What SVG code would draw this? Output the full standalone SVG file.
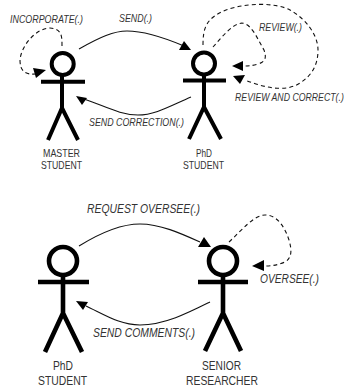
<svg xmlns="http://www.w3.org/2000/svg" width="344" height="387" viewBox="0 0 344 387">
<style>
text{font-family:"Liberation Sans",Arial,sans-serif;fill:#333;font-size:11.5px}
.i{font-style:italic}
.b{font-size:13.5px}
.fig{fill:none;stroke:#000;stroke-width:4}
.big{stroke-width:4.6}
.c{fill:none;stroke:#111;stroke-width:1.1}
.d{stroke-dasharray:4 3.2}
.h{fill:#000;stroke:none}
</style>
<rect width="344" height="387" fill="#fff"/>
<g id="connectors">
<path class="c" d="M79 49C100 37 114 31 127 31C145 31 165 38 184 46"/>
<polygon class="h" points="191,50 184,41 179,50"/>
<path class="c" d="M191 97C170 106 155 115 138 115C120 115 105 106 84 99"/>
<polygon class="h" points="76,96 87,98 82,105"/>
<path class="c d" d="M62 46C62 36 62 29 50 28C36 28 21 46 20 60C20 71 25 75 36 74"/>
<polygon class="h" points="46,70 33,68 36,78"/>
<path class="c d" d="M203 45C203 28 206 18 226 10C245 3 275 2 290 10C306 19 318 35 318 50C318 66 311 76 300 83C288 91 270 90 245 80"/>
<polygon class="h" points="233,76 245,75 240,84"/>
<path class="c d" d="M213 47C222 37 232 24 242 23C252 24 258 40 264 50C267 58 265 62 258 64C252 66 248 66 243 66"/>
<polygon class="h" points="232,66 243,61 243,71"/>
<path class="c" d="M79 246C100 233 120 224 140 224C160 224 180 233 200 242"/>
<polygon class="h" points="211,247 204,237 198,247"/>
<path class="c" d="M210 302C190 312 165 325 140 325C120 325 105 315 86 306"/>
<polygon class="h" points="76,301 88,302 83,310"/>
<path class="c d" d="M229 242C242 230 254 215 265 215C278 215 285 228 289 240C292 250 292 258 285 262C278 265 272 266 264 266"/>
<polygon class="h" points="252,266 264,260 264,271"/>
</g>
<g id="master-student">
<path class="fig" d="M41 81.7H85M62 75V108M48 140L62 108L78 140"/>
<circle class="fig" cx="62.7" cy="64" r="11"/>
<text x="43" y="157" textLength="37" lengthAdjust="spacingAndGlyphs">MASTER</text>
<text x="41" y="169" textLength="41" lengthAdjust="spacingAndGlyphs">STUDENT</text>
</g>
<g id="phd-student-top">
<path class="fig" d="M183 80.5H226M204 74V107M189 139L204 107L221 139"/>
<circle class="fig" cx="204" cy="63.5" r="11"/>
<text x="196" y="157" textLength="16" lengthAdjust="spacingAndGlyphs">PhD</text>
<text x="183" y="169" textLength="41" lengthAdjust="spacingAndGlyphs">STUDENT</text>
</g>
<g id="phd-student-bottom">
<path class="fig big" d="M38 282H89M63 275V313M45 352L63 313L82 352"/>
<circle class="fig big" cx="63" cy="261" r="14"/>
<text class="b" x="53" y="370" textLength="20" lengthAdjust="spacingAndGlyphs">PhD</text>
<text class="b" x="38" y="385" textLength="49" lengthAdjust="spacingAndGlyphs">STUDENT</text>
</g>
<g id="senior-researcher">
<path class="fig big" d="M198 282H248M223 275V313M205 351L223 313L241 351"/>
<circle class="fig big" cx="223" cy="261" r="14"/>
<text class="b" x="202" y="370" textLength="39" lengthAdjust="spacingAndGlyphs">SENIOR</text>
<text class="b" x="186" y="385" textLength="72" lengthAdjust="spacingAndGlyphs">RESEARCHER</text>
</g>
<g id="labels">
<text class="i" x="10" y="23" textLength="73" lengthAdjust="spacingAndGlyphs">INCORPORATE(.)</text>
<text class="i" x="119" y="22" textLength="33" lengthAdjust="spacingAndGlyphs">SEND(.)</text>
<text class="i" x="89" y="125.5" textLength="95" lengthAdjust="spacingAndGlyphs">SEND CORRECTION(.)</text>
<text class="i" x="259" y="31" textLength="43" lengthAdjust="spacingAndGlyphs">REVIEW(.)</text>
<text class="i" transform="translate(235 101) scale(.76 1)">REVIEW AND CORRECT(.)</text>
<text class="i b" x="87" y="213" textLength="113" lengthAdjust="spacingAndGlyphs">REQUEST OVERSEE(.)</text>
<text class="i b" x="93" y="337" textLength="102" lengthAdjust="spacingAndGlyphs">SEND COMMENTS(.)</text>
<text class="i b" x="260" y="283" textLength="59" lengthAdjust="spacingAndGlyphs">OVERSEE(.)</text>
</g>
</svg>
